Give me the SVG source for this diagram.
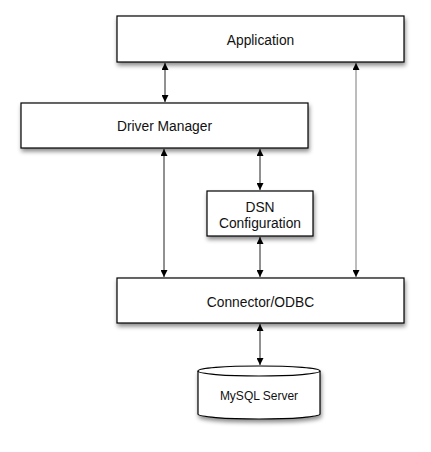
<svg xmlns="http://www.w3.org/2000/svg" width="431" height="452" viewBox="0 0 431 452">
<style>
.box{fill:#fff;stroke:#000;stroke-width:1.2;filter:url(#sh)}
.lbl{font-family:"Liberation Sans",Arial,sans-serif;font-size:13.8px;fill:#111;text-anchor:middle}
.c{stroke:#222;stroke-width:1;fill:none;marker-start:url(#ah);marker-end:url(#ah)}
.g{stroke:#7a7a7a}
</style>
<defs>
<filter id="sh" x="-10%" y="-20%" width="120%" height="160%">
<feDropShadow dx="1" dy="3" stdDeviation="2" flood-color="#000" flood-opacity="0.45"/>
</filter>
<marker id="ah" viewBox="0 0 10 10" refX="10" refY="5" markerWidth="7" markerHeight="7" markerUnits="userSpaceOnUse" orient="auto-start-reverse">
<path d="M0,0 L10,5 L0,10 z" fill="#000"/>
</marker>
</defs>
<rect width="431" height="452" fill="#fff"/>
<g id="connectors">
<line class="c" x1="165" y1="63" x2="165" y2="102"/>
<line class="c g" x1="356" y1="63" x2="356" y2="277"/>
<line class="c" x1="164" y1="149" x2="164" y2="277"/>
<line class="c" x1="260" y1="149" x2="260" y2="190"/>
<line class="c" x1="260" y1="237" x2="260" y2="277"/>
<line class="c" x1="260" y1="324" x2="260" y2="365"/>
</g>
<g id="application">
<rect class="box" x="117" y="16" width="287" height="46"/>
<text class="lbl" x="260.5" y="44.5">Application</text>
</g>
<g id="driver-manager">
<rect class="box" x="21" y="103" width="287" height="45"/>
<text class="lbl" x="164.5" y="131">Driver Manager</text>
</g>
<g id="dsn-configuration">
<rect class="box" x="207" y="191" width="106" height="45"/>
<text class="lbl" x="260" y="211.5">DSN</text>
<text class="lbl" x="260" y="228">Configuration</text>
</g>
<g id="connector-odbc">
<rect class="box" x="117" y="278" width="287" height="45"/>
<text class="lbl" x="260.5" y="307">Connector/ODBC</text>
</g>
<g id="mysql-server">
<path class="box" d="M198,371 A61,5 0 0 1 320,371 L320,414 A61,5 0 0 1 198,414 Z"/>
<path d="M198,371 A61,5 0 0 0 320,371" fill="none" stroke="#000" stroke-width="1.2"/>
<text class="lbl" x="259" y="399.5" style="font-size:12px">MySQL Server</text>
</g>
</svg>
